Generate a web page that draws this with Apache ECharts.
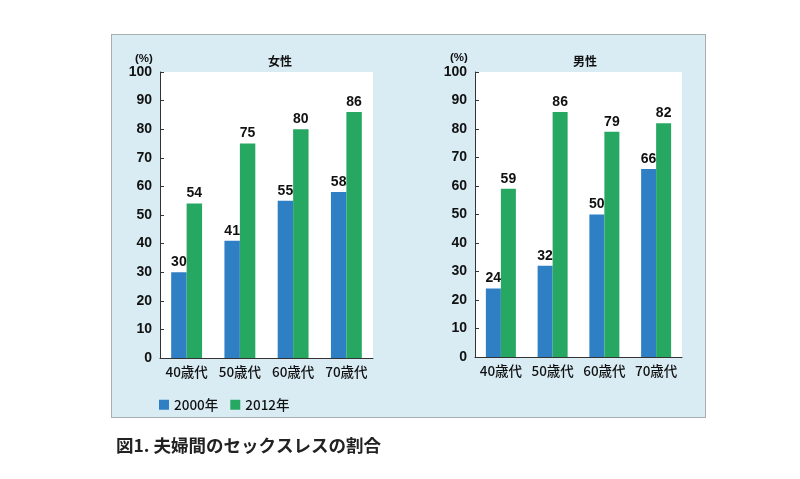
<!DOCTYPE html>
<html><head><meta charset="utf-8">
<script src="https://cdn.jsdelivr.net/npm/echarts@6/dist/echarts.min.js"></script>
<style>
html,body{margin:0;padding:0;background:#fff;}
#box{position:absolute;left:111px;top:34px;width:593px;height:382px;background:#d9ecf4;border:1px solid #a9adb0;}
#c{position:absolute;left:0;top:0;width:800px;height:479px;}
</style></head><body>
<div id="box"></div>
<div id="c"></div>
<script>
const categories = ['40歳代','50歳代','60歳代','70歳代'];
const female2000 = [30, 41, 55, 58];
const female2012 = [54, 75, 80, 86];
const male2000 = [24, 32, 50, 66];
const male2012 = [59, 86, 79, 82];
const yTicks = [0,10,20,30,40,50,60,70,80,90,100];
const seriesNames = ['2000年','2012年'];

const FONT = '"Noto Sans CJK JP", "Liberation Sans", sans-serif';
const NUMFONT = '"Liberation Sans", "DejaVu Sans", sans-serif';
const BLUE = '#2f7fc5', GREEN = '#27a862';
const chart = echarts.init(document.getElementById('c'), null, {renderer:'canvas'});

function xAxis(i){
  return {type:'category', gridIndex:i, data:categories,
    axisLine:{lineStyle:{color:'#333',width:1}},
    axisTick:{inside:true,length:5,lineStyle:{color:'#333'}},
    axisLabel:{interval:0,hideOverlap:false,color:'#111',fontSize:13.5,fontWeight:500,fontFamily:FONT,margin:7}};
}
function yAxis(i){
  return {type:'value', gridIndex:i, min:0, max:100, interval:10,
    axisLine:{show:true,lineStyle:{color:'#333',width:1}},
    axisTick:{show:true,inside:true,length:4,lineStyle:{color:'#333'}},
    splitLine:{show:false},
    axisLabel:{color:'#111',fontSize:14,fontWeight:'bold',fontFamily:NUMFONT,margin:8,
      formatter:v=> yTicks.includes(v)? String(v):''}};
}
function bar(name, data, i, color){
  return {type:'bar', name, data, xAxisIndex:i, yAxisIndex:i, barWidth:'29%', barGap:'0%',
    itemStyle:{color}, label:{show:true,position:'top',distance:3,color:'#111',fontSize:14,fontWeight:'bold',
    fontFamily:NUMFONT}};
}
chart.setOption({
  animation:false,
  backgroundColor:'transparent',
  title:[
    {text:'女性',left:263,top:50,textStyle:{fontSize:12,fontWeight:'bold',color:'#111',fontFamily:FONT}},
    {text:'男性',left:568,top:50,textStyle:{fontSize:12,fontWeight:'bold',color:'#111',fontFamily:FONT}},
    {text:'(%)',left:130,top:48,textStyle:{fontSize:11.5,fontWeight:'bold',color:'#111',fontFamily:NUMFONT}},
    {text:'(%)',left:445,top:47,textStyle:{fontSize:11.5,fontWeight:'bold',color:'#111',fontFamily:NUMFONT}},
    {text:'図1. 夫婦間のセックスレスの割合',left:111,top:432,textStyle:{fontSize:17.5,fontWeight:'bold',color:'#222',fontFamily:FONT}}
  ],
  legend:{data:seriesNames,left:154,top:393,itemWidth:10,itemHeight:10,itemGap:12,icon:'rect',
    textStyle:{fontSize:13.5,fontWeight:500,color:'#111',fontFamily:FONT}},
  grid:[
    {left:160,top:72,width:213,height:286,backgroundColor:'#fff',show:true,borderWidth:0},
    {left:475,top:72,width:207,height:285,backgroundColor:'#fff',show:true,borderWidth:0}
  ],
  xAxis:[xAxis(0),xAxis(1)],
  yAxis:[yAxis(0),yAxis(1)],
  series:[
    bar(seriesNames[0],female2000,0,BLUE),
    bar(seriesNames[1],female2012,0,GREEN),
    bar(seriesNames[0],male2000,1,BLUE),
    bar(seriesNames[1],male2012,1,GREEN)
  ]
});
</script>
</body></html>
